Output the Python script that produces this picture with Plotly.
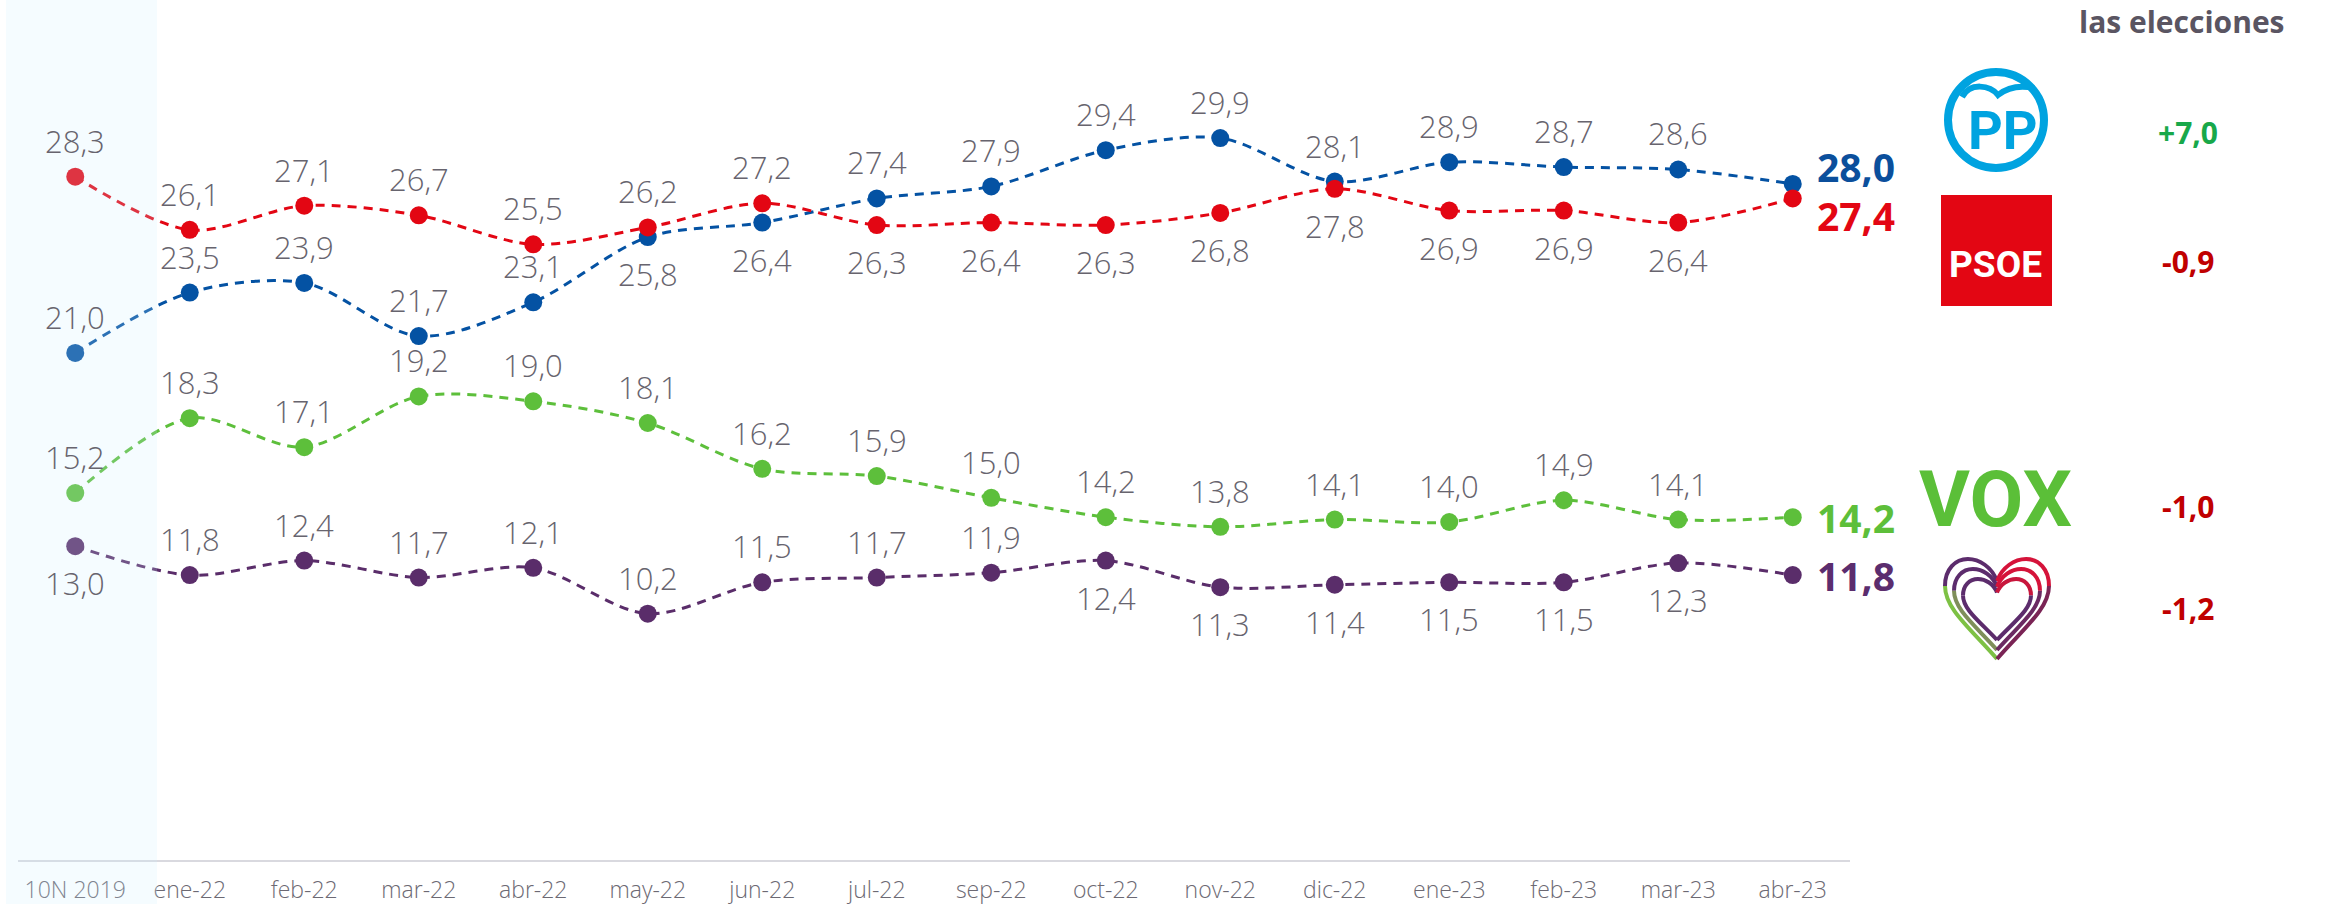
import plotly.graph_objects as go

# ---------------- data ----------------
categories = ["10N 2019", "ene-22", "feb-22", "mar-22", "abr-22", "may-22", "jun-22",
              "jul-22", "sep-22", "oct-22", "nov-22", "dic-22", "ene-23", "feb-23",
              "mar-23", "abr-23"]
pp = [21.0, 23.5, 23.9, 21.7, 23.1, 25.8, 26.4, 27.4, 27.9, 29.4, 29.9, 28.1, 28.9, 28.7, 28.6, 28.0]
psoe = [28.3, 26.1, 27.1, 26.7, 25.5, 26.2, 27.2, 26.3, 26.4, 26.3, 26.8, 27.8, 26.9, 26.9, 26.4, 27.4]
vox = [15.2, 18.3, 17.1, 19.2, 19.0, 18.1, 16.2, 15.9, 15.0, 14.2, 13.8, 14.1, 14.0, 14.9, 14.1, 14.2]
up = [13.0, 11.8, 12.4, 11.7, 12.1, 10.2, 11.5, 11.7, 11.9, 12.4, 11.3, 11.4, 11.5, 11.5, 12.3, 11.8]
diff_title = "las elecciones"
diff_labels = ["+7,0", "-0,9", "-1,0", "-1,2"]

# label placement: a = above, b = below, e = end label
pp_pos = ["a", "a", "a", "a", "a", "b", "b", "a", "a", "a", "a", "a", "a", "a", "a", "e"]
psoe_pos = ["a", "a", "a", "a", "a", "a", "a", "b", "b", "b", "b", "b", "b", "b", "b", "e"]
vox_pos = ["a"] * 15 + ["e"]
up_pos = ["b", "a", "a", "a", "a", "a", "a", "a", "a", "b", "b", "b", "b", "b", "b", "e"]

# ---------------- layout geometry ----------------
W, H = 2344, 904
L, R, T, B = 18, 494, 0, 44
PW = W - L - R
PH = H - T - B


def px(x):
    return (x - L) / PW


def py(y):
    return (H - B - y) / PH


FONT = "Open Sans"
LOGO_FONT = "Roboto"
GREY = "#67646e"

series = [
    ("PP", pp, pp_pos, "#0452a3", "#0b4f9c", 17),
    ("PSOE", psoe, psoe_pos, "#e30613", "#e30613", -17),
    ("VOX", vox, vox_pos, "#5dbf3b", "#5dbf3a", 0),
    ("UP", up, up_pos, "#5a2d6a", "#5b2d6e", 0),
]

fig = go.Figure()
annotations = []

for name, vals, pos, col, endcol, endshift in series:
    fig.add_trace(go.Scatter(
        x=categories, y=vals, mode="lines+markers", name=name,
        line=dict(color=col, width=3, dash="9px,7px", shape="spline", smoothing=0.9),
        marker=dict(size=18, color=col),
        hoverinfo="x+y", showlegend=False,
    ))
    for c, v, p in zip(categories, vals, pos):
        txt = f"{v:.1f}".replace(".", ",")
        if p == "e":
            annotations.append(dict(
                x=c, y=v, xref="x", yref="y", text=txt, showarrow=False,
                xanchor="left", yanchor="middle", xshift=22, yshift=endshift,
                font=dict(family=FONT, size=39, color=endcol, weight="bold"),
            ))
        else:
            annotations.append(dict(
                x=c, y=v, xref="x", yref="y", text=txt, showarrow=False,
                xanchor="center", yanchor="middle", yshift=36 if p == "a" else -37,
                font=dict(family=FONT, size=31, color=GREY, weight=300),
            ))

# right panel texts
annotations.append(dict(
    x=px(2182), y=py(0), xref="paper", yref="paper", text=diff_title, showarrow=False,
    xanchor="center", yanchor="top", borderpad=0,
    font=dict(family=FONT, size=30, color="#5a5562", weight="bold"),
))
diff_y = [132, 261, 506, 608]
for lab, yy in zip(diff_labels, diff_y):
    annotations.append(dict(
        x=px(2188), y=py(yy), xref="paper", yref="paper", text=lab, showarrow=False,
        xanchor="center", yanchor="middle",
        font=dict(family=FONT, size=30, color="#18a84a" if lab.startswith("+") else "#c00000",
                  weight="bold"),
    ))

# logo texts
annotations.append(dict(
    x=px(2003), y=py(131), xref="paper", yref="paper", text="PP", showarrow=False,
    xanchor="center", yanchor="middle",
    font=dict(family=LOGO_FONT, size=54, color="#00a3e0", weight="bold"),
))
annotations.append(dict(
    x=px(1996), y=py(264), xref="paper", yref="paper", text="PSOE", showarrow=False,
    xanchor="center", yanchor="middle",
    font=dict(family=LOGO_FONT, size=37, color="white", weight="bold"),
))
annotations.append(dict(
    x=px(1996), y=py(500), xref="paper", yref="paper", text="VOX", showarrow=False,
    xanchor="center", yanchor="middle",
    font=dict(family=LOGO_FONT, size=78, color="#5bbf38", weight="bold"),
))

shapes = []
# highlight band over the first category
shapes.append(dict(
    type="rect", xref="paper", yref="paper", x0=px(6), x1=px(157), y0=py(904), y1=py(0),
    fillcolor="#cdeeff", opacity=0.2, line=dict(width=0), layer="above",
))

# PP logo
shapes.append(dict(
    type="circle", xref="paper", yref="paper",
    x0=px(1996 - 48), x1=px(1996 + 48), y0=py(120 + 48), y1=py(120 - 48),
    line=dict(color="#00a3e0", width=8), fillcolor="rgba(0,0,0,0)",
))


def path_px(cmds):
    out = []
    for c in cmds:
        if isinstance(c, str):
            out.append(c)
        else:
            out.append(f"{px(c[0]):.6f},{py(c[1]):.6f}")
    return " ".join(out)


shapes.append(dict(
    type="path", xref="paper", yref="paper",
    path=path_px(["M", (1962, 97), "C", (1970, 82), (1990, 85), (1998, 95),
                  "C", (2008, 87), (2020, 85), (2034, 88)]),
    line=dict(color="#00a3e0", width=6),
))

# PSOE logo
shapes.append(dict(
    type="rect", xref="paper", yref="paper", x0=px(1941), x1=px(2052), y0=py(306), y1=py(195),
    fillcolor="#e30613", line=dict(width=0),
))


# heart logo
def heart(cx, top, w, h):
    def P(u, v):
        return (cx - w / 2 + u * w, top + v * h)
    segs = [
        ["M", P(0.5, 0.22), "C", P(0.45, 0.08), P(0.33, 0), P(0.22, 0), "C", P(0.1, 0), P(0, 0.1), P(0, 0.27)],
        ["M", P(0, 0.27), "C", P(0, 0.5), P(0.25, 0.7), P(0.5, 1)],
        ["M", P(1, 0.27), "C", P(1, 0.1), P(0.9, 0), P(0.78, 0), "C", P(0.67, 0), P(0.55, 0.08), P(0.5, 0.22)],
        ["M", P(0.5, 1), "C", P(0.75, 0.7), P(1, 0.5), P(1, 0.27)],
    ]
    return [path_px(s) for s in segs]


hearts = [
    ((1997, 559, 104, 100), ["#5c2c6c", "#7dc144", "#d5133a", "#7a2455"]),
    ((1997, 569, 86, 81), ["#5c2c6c", "#7f8f5a", "#d5133a", "#6b2a62"]),
    ((1997, 579, 68, 61), ["#5c2c6c", "#5c2c6c", "#c8163c", "#5c2c6c"]),
]
for (cx, top, w, h), cols in hearts:
    for pth, cl in zip(heart(cx, top, w, h), cols):
        shapes.append(dict(type="path", xref="paper", yref="paper", path=pth,
                           line=dict(color=cl, width=4)))

fig.update_layout(
    width=W, height=H,
    margin=dict(l=L, r=R, t=T, b=B, pad=0),
    paper_bgcolor="white", plot_bgcolor="white",
    showlegend=False,
    xaxis=dict(type="category", range=[-0.5, 15.5], showgrid=False, zeroline=False,
               showline=True, linecolor="#d9d9df", linewidth=2, ticks="",
               tickfont=dict(family=FONT, size=23, color="#6c6973", weight=300),
               ticklabelstandoff=8, fixedrange=True),
    yaxis=dict(range=[0, 35.62], visible=False, showgrid=False, zeroline=False,
               fixedrange=True),
    annotations=annotations,
    shapes=shapes,
)

fig.write_html("out.html", config={"displayModeBar": False},
               post_script="document.body.style.margin='0';")
